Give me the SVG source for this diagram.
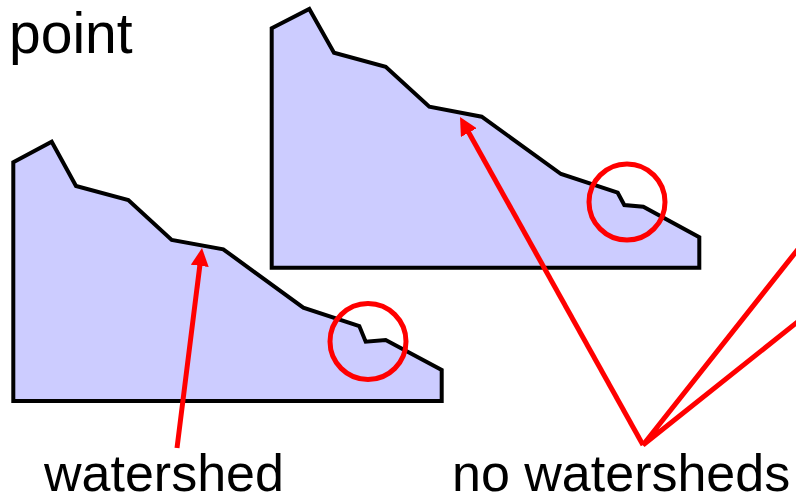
<svg xmlns="http://www.w3.org/2000/svg" width="796" height="496" viewBox="0 0 796 496">
<style>
.land{fill:#ccccff;stroke:#000;stroke-width:4;stroke-linejoin:miter}
.ring{fill:none;stroke:#ff0000;stroke-width:5}
.ptr{fill:none;stroke:#ff0000;stroke-width:5}
.lbl{font-family:"Liberation Sans",Arial,sans-serif;fill:#000}
</style>
<defs>
<marker id="ah" markerUnits="userSpaceOnUse" viewBox="0 0 18 18" markerWidth="18" markerHeight="18" refX="1" refY="9" orient="auto">
<path d="M0,0 L18,9 L0,18 z" fill="#ff0000"/>
</marker>
</defs>
<rect width="796" height="496" fill="#fff"/>
<g id="profile-left">
<polygon class="land" points="13.3,162.3 51.7,141.7 76,186 128.3,200 171.7,240 223.3,249.3 303.3,307.7 359.3,326 365.7,341.7 385.7,340 441.7,370 441.7,401 13.3,401"/>
<circle class="ring" cx="368" cy="341.5" r="38"/>
</g>
<g id="profile-right">
<polygon class="land" points="271.7,28.3 309.3,9 334,52.7 385.7,66.7 429.3,106.7 481.7,116.7 561,174 617.7,192.7 624.3,205 643.3,206.7 699.3,237.3 699.3,267.7 271.7,267.7"/>
<circle class="ring" cx="627" cy="202" r="38"/>
</g>
<g id="connectors">
<line class="ptr" x1="177" y1="448" x2="199.9" y2="264.9" marker-end="url(#ah)"/>
<line class="ptr" x1="643" y1="445" x2="468.3" y2="131.8" marker-end="url(#ah)"/>
<path class="ptr" d="M830,208.7 L643,445 L830,296" stroke-linejoin="miter"/>
</g>
<g id="labels">
<text id="t-point" class="lbl" x="9" y="53" font-size="57">point</text>
<text id="t-watershed" class="lbl" x="44" y="491" font-size="52">watershed</text>
<text id="t-nows" class="lbl" x="452" y="491" font-size="52">no watersheds</text>
</g>
</svg>
